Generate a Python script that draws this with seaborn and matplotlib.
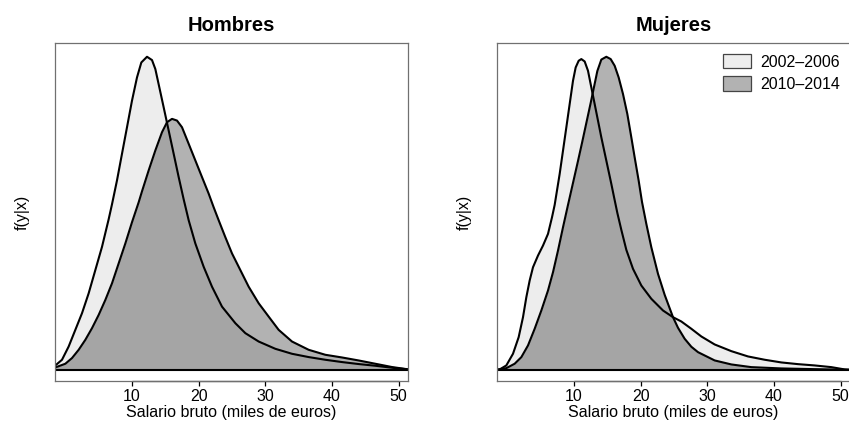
import numpy as np
import pandas as pd
import matplotlib
matplotlib.use("Agg")
import matplotlib.pyplot as plt
from matplotlib.patches import Patch
from matplotlib.lines import Line2D
import seaborn as sns

# Densidades estimadas del salario bruto (miles de euros), unidades arbitrarias
periodos = ["2002\u20132006", "2010\u20132014"]
paneles = ["Hombres", "Mujeres"]
ticks_x = [10, 20, 30, 40, 50]

# Hombres, 2002-2006
h02_x = [-1.5, -0.5, 0.5, 1.5, 2.5, 3.5, 4.5, 5.5, 6.5, 7.0, 7.75, 8.5, 9.25,
         10.0, 10.75, 11.4, 12.25, 13.0, 13.5, 14.1, 14.75, 15.5, 16.25, 17.0,
         17.75, 18.5, 19.5, 20.75, 22.0, 23.5, 25.5, 27.0, 29.0, 31.5, 34.0,
         36.5, 39.0, 41.5, 44.0, 46.5, 49.0, 51.5]
h02_y = [4.3, 10, 23.3, 40, 56.7, 76.7, 100, 123.3, 151, 166, 190, 216.7, 243.3,
         270, 293.3, 308.3, 314, 310.7, 301.7, 283.3, 263.3, 240, 216.7, 193.3,
         171, 150, 126.7, 103.3, 83.3, 63.3, 46.7, 36.7, 28.3, 21, 16,
         12.7, 10, 7.7, 5.7, 4, 2, 0.3]
# Hombres, 2010-2014
h10_x = [-1.5, 0, 1, 2, 3, 4, 5, 6, 7, 8, 9, 10, 11, 11.5, 12.5, 13.5, 14.5,
         15.25, 16.0, 16.75, 17.5, 18.5, 19.5, 20.5, 21.5, 22.25, 23.0, 24.0,
         25.0, 26.25, 27.5, 29.0, 30.5, 32.0, 34.0, 36.5, 39.0, 41.5, 44.0,
         46.5, 49.0, 51.5]
h10_y = [2.3, 6, 11.7, 20, 30, 41.7, 55, 70, 86.7, 106.7, 126.7, 148, 168, 179,
         200, 220, 238.3, 248.3, 251.7, 250, 243.3, 226.7, 210, 193.3, 176.7,
         163, 150, 133, 116.7, 100, 83.3, 66.7, 53.3, 40, 28.3, 20, 15, 12.3,
         9.3, 6, 2.7, 0.3]
# Mujeres, 2002-2006
m02_x = [-1.65, -1.15, -0.15, 0.85, 1.7, 2.35, 2.85, 3.35, 3.85, 4.6, 5.35, 6.1,
         6.7, 7.1, 7.85, 8.35, 8.85, 9.35, 9.85, 10.25, 10.7, 11.1, 11.6, 12.1,
         12.6, 13.1, 13.6, 14.1, 14.85, 15.6, 16.0, 16.5, 17.1, 17.85, 18.85,
         20.1, 21.6, 23.35, 24.85, 26.1, 27.6, 29.1, 31.1, 33.6, 36.1, 38.6,
         41.1, 43.6, 46.1, 48.6, 50.6, 51.3]
m02_y = [0, 0.3, 4.3, 16, 32.6, 52.6, 72.6, 89.3, 102.6, 114.3, 124.3, 136,
         152.6, 165, 196, 219.3, 242.6, 266, 289.3, 302.6, 309.3, 311, 308.6,
         299.3, 282.6, 266, 249.3, 232.6, 209.3, 186, 173, 157, 140, 120,
         101, 84.3, 71, 59.3, 52.6, 48.3, 41, 33.3, 25.3, 18.6, 13.3, 10,
         7.3, 5.6, 4.3, 2.6, 0.3, 0]
# Mujeres, 2010-2014
m10_x = [-1.65, -0.15, 1.1, 2.1, 3.1, 4.1, 5.1, 6.1, 6.85, 7.6, 8.35, 9.1, 9.85,
         10.6, 11.2, 11.85, 12.5, 13.0, 13.5, 14.1, 14.85, 15.5, 16.1, 16.7,
         17.35, 18.0, 18.6, 19.1, 19.7, 20.2, 20.85, 21.6, 22.6, 23.6, 24.85,
         25.6, 26.6, 27.6, 28.6, 31.1, 33.6, 36.6, 41.1, 46.0, 51.3]
m10_y = [0, 1.6, 6, 12.6, 24.3, 41, 59.3, 79.3, 97.6, 119.3, 142.6, 165, 187,
         209, 227, 247, 267, 283, 299, 310.5, 313.3, 311, 304.3, 292.6,
         276, 256, 232.6, 212.6, 189.3, 168, 146, 122.6, 96, 75, 52.6,
         42, 31, 23, 17.6, 9.3, 5.3, 2.6, 1.3, 0.6, 0]

curvas = {
    "Hombres": [(h02_x, h02_y), (h10_x, h10_y)],
    "Mujeres": [(m02_x, m02_y), (m10_x, m10_y)],
}

sns.set_theme(style="white")
plt.rcParams["font.family"] = ["Liberation Sans", "DejaVu Sans"]
plt.rcParams["text.color"] = "black"
plt.rcParams["axes.labelcolor"] = "black"
plt.rcParams["xtick.color"] = "black"

fig = plt.figure(figsize=(8.49, 4.23), dpi=100)
W, H = 849, 423
pos = {"Hombres": 55, "Mujeres": 497}
ancho, top, bottom = 353, 43, 381

relleno = [dict(color="#ededed", alpha=1.0), dict(color="black", alpha=0.3)]

for panel in paneles:
    ax = fig.add_axes([pos[panel] / W, (H - bottom) / H, ancho / W, (bottom - top) / H])
    ymax = 0
    for (xs, ys), estilo in zip(curvas[panel], relleno):
        df = pd.DataFrame({"x": xs, "y": ys})
        ax.fill_between(df["x"], 0, df["y"], linewidth=0, **estilo)
        sns.lineplot(data=df, x="x", y="y", ax=ax, color="black", lw=1.5,
                     estimator=None, sort=False)
        ymax = max(ymax, max(ys))
    ax.axhline(0, color="black", lw=1.5)
    ax.set_xlim(-1.55, 51.4)
    ax.set_ylim(-0.036 * ymax, 1.044 * ymax)
    ax.set_xticks(ticks_x)
    ax.set_xticklabels([str(t) for t in ticks_x])
    ax.set_yticks([])
    for s in ax.spines.values():
        s.set_color("#707070")
        s.set_linewidth(0.9)
    ax.add_line(Line2D([ticks_x[0], ticks_x[-1]], [0, 0], color="black", lw=0.9,
                       transform=ax.get_xaxis_transform(), clip_on=False))
    ax.tick_params(axis="x", direction="out", length=3.6, width=0.9, color="black",
                   pad=2.0, labelsize=11.5, labelcolor="black", bottom=True)
    ax.set_xlabel("Salario bruto (miles de euros)", fontsize=11.5, labelpad=1)
    ax.set_ylabel("f(y|x)", fontsize=11.5, labelpad=18)
    ax.set_title(panel, fontsize=14.5, fontweight="bold", pad=8.3)
    ax.set_facecolor("white")

    if panel == "Mujeres":
        handles = [Patch(facecolor="#ededed", edgecolor="#444444", lw=0.9),
                   Patch(facecolor="#b2b2b2", edgecolor="#444444", lw=0.9)]
        ax.legend(handles, periodos, loc="upper left", frameon=False,
                  bbox_to_anchor=(722.7 / W, 1 - 54 / H), bbox_transform=fig.transFigure,
                  borderpad=0, borderaxespad=0, handlelength=1.78, handleheight=1.0,
                  handletextpad=0.6, labelspacing=0.42, fontsize=11.5)

fig.savefig("out.png", dpi=100)
